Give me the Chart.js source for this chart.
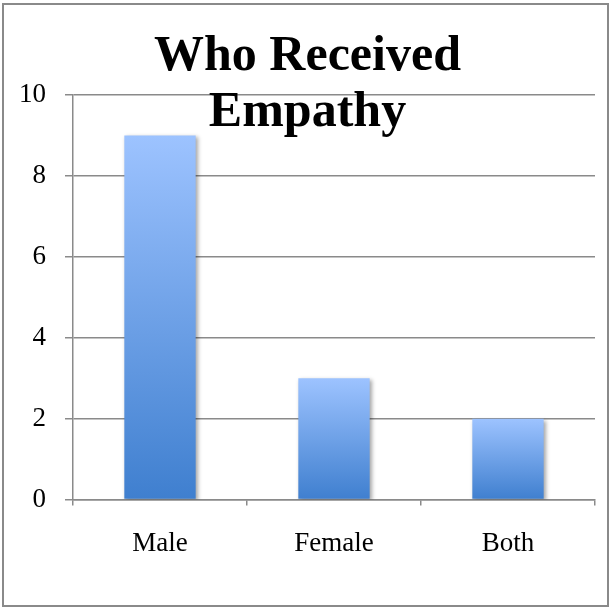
<!DOCTYPE html>
<html>
<head>
<meta charset="utf-8">
<script src="https://cdn.jsdelivr.net/npm/chart.js@4.4.1/dist/chart.umd.min.js"></script>
<style>
    html, body { margin: 0; padding: 0; background: #fff; }
    #wrap { position: relative; width: 612px; height: 607px; }
    #frame {
        position: absolute; left: 2px; top: 3px; width: 603px; height: 600px;
        border: 2px solid #8a8a8a; pointer-events: none;
    }
    canvas { position: absolute; left: 0; top: 0; }
</style>
</head>
<body>
<div id="wrap">
    <canvas id="chart" width="612" height="607"></canvas>
    <div id="frame"></div>
</div>
<script>
const categories = ["Male", "Female", "Both"];
const counts = [9, 3, 2];
const yTicks = [0, 2, 4, 6, 8, 10];
const titleLines = ["Who Received", "Empathy"];

const serif = "'Liberation Serif', 'DejaVu Serif', serif";

// vertical gradient per bar, light on top, darker at the base
function barGradient(context) {
    const chart = context.chart;
    const area = chart.chartArea;
    if (!area) return "#7fa8e8";
    const yScale = chart.scales.y;
    const top = yScale.getPixelForValue(context.raw);
    const bottom = yScale.getPixelForValue(0);
    const g = chart.ctx.createLinearGradient(0, top, 0, bottom);
    g.addColorStop(0, "#9dc3ff");
    g.addColorStop(1, "#3f7fcf");
    return g;
}

// soft drop shadow behind the bars
const barShadow = {
    id: "barShadow",
    beforeDatasetsDraw(chart) {
        const ctx = chart.ctx;
        ctx.save();
        ctx.shadowColor = "rgba(0,0,0,0.35)";
        ctx.shadowBlur = 4;
        ctx.shadowOffsetX = 2;
        ctx.shadowOffsetY = 2;
    },
    afterDatasetsDraw(chart) {
        chart.ctx.restore();
    }
};

// title sits centred on the whole frame, not on the padded box
const titleShift = {
    id: "titleShift",
    afterLayout(chart) {
        const t = chart.titleBlock;
        if (!t) return;
        t.left += 10;
        t.right += 10;
    }
};

new Chart(document.getElementById("chart").getContext("2d"), {
    type: "bar",
    data: {
        labels: categories,
        datasets: [{
            label: "Who Received Empathy",
            data: counts,
            backgroundColor: barGradient,
            borderWidth: 0,
            barPercentage: 0.41,
            categoryPercentage: 1
        }]
    },
    options: {
        responsive: false,
        animation: false,
        layout: {
            padding: { left: 0, right: 17, top: 0, bottom: 25 }
        },
        plugins: {
            legend: { display: false },
            tooltip: { enabled: false },
            title: {
                display: true,
                text: titleLines,
                color: "#000",
                font: { family: serif, size: 50, weight: "bold", lineHeight: 1.12 },
                padding: { top: 29, bottom: -46 }
            }
        },
        scales: {
            x: {
                grid: {
                    offset: true,
                    drawOnChartArea: false,
                    drawTicks: true,
                    tickLength: 6,
                    color: "#8a8a8a",
                    lineWidth: 1.5
                },
                border: { display: true, color: "#8a8a8a", width: 1.5 },
                ticks: {
                    color: "#000",
                    padding: 22,
                    font: { family: serif, size: 27 }
                }
            },
            y: {
                min: 0,
                max: 10,
                afterBuildTicks(axis) {
                    axis.ticks = yTicks.map(v => ({ value: v }));
                },
                grid: {
                    color: "#8a8a8a",
                    lineWidth: 1.5,
                    tickLength: 8
                },
                border: { display: true, color: "#8a8a8a", width: 1.5 },
                ticks: {
                    color: "#000",
                    padding: 19,
                    font: { family: serif, size: 27 }
                }
            }
        }
    },
    plugins: [barShadow, titleShift]
});
</script>
</body>
</html>
